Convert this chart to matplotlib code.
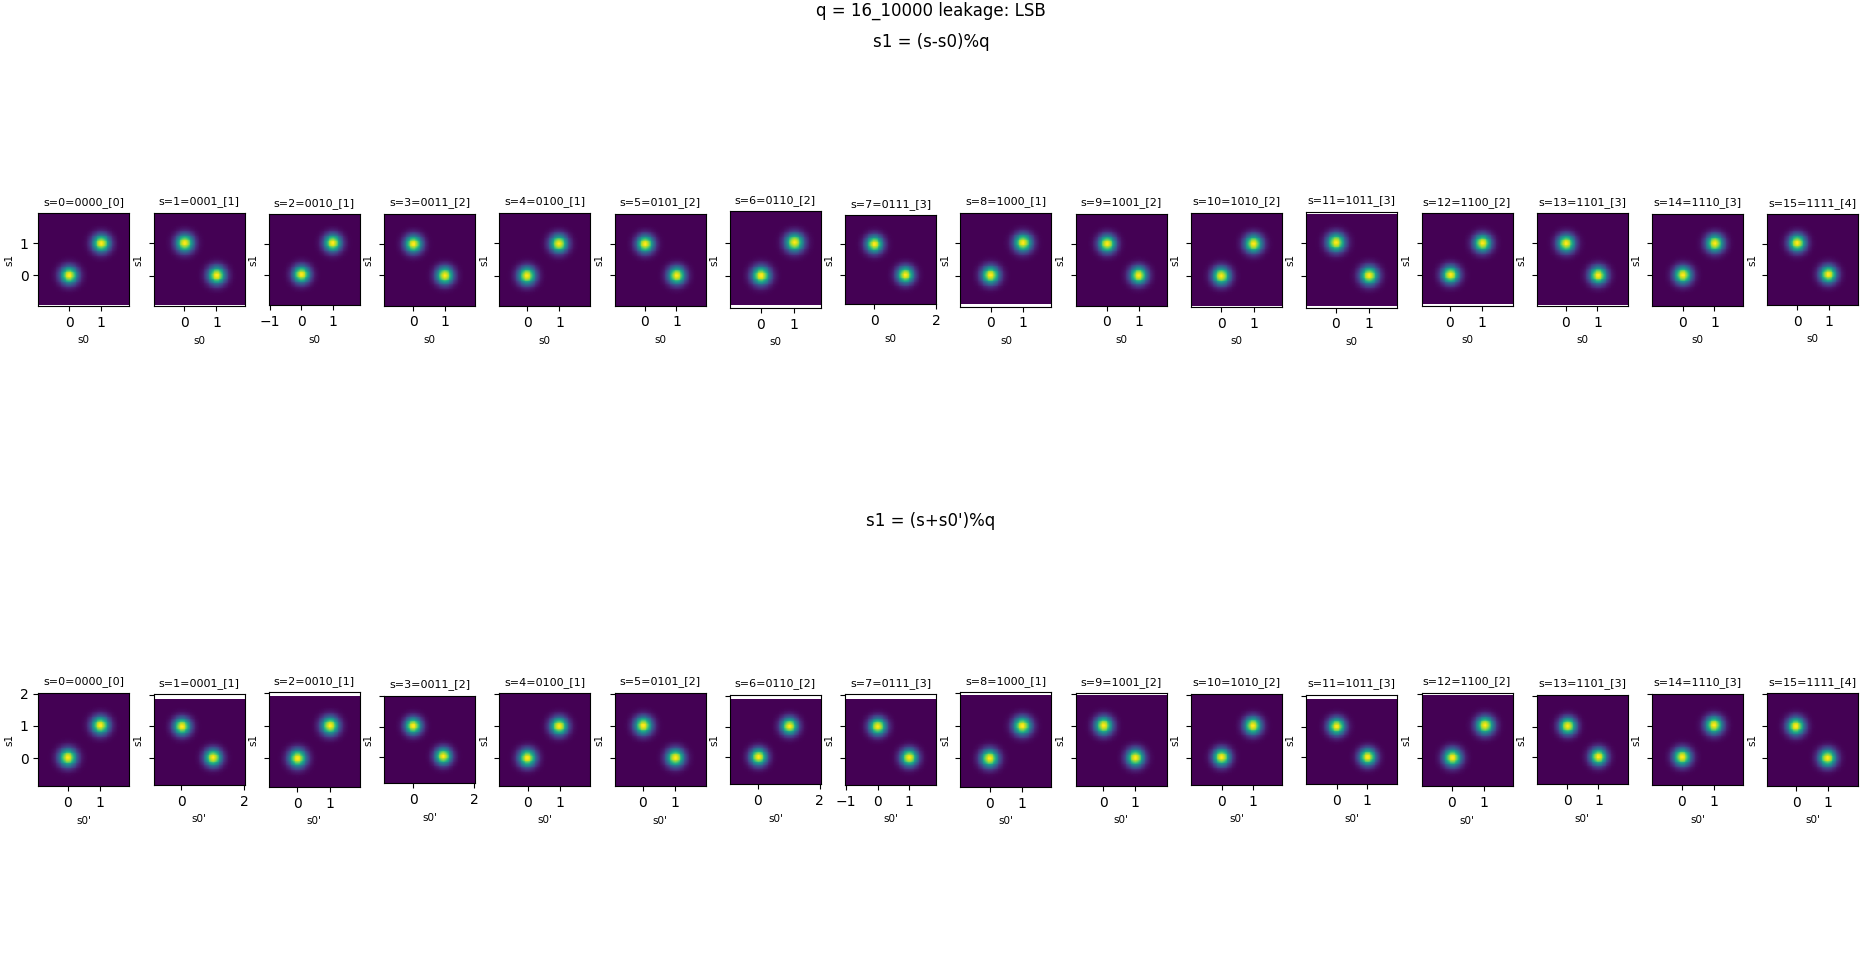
import numpy as np
import matplotlib
matplotlib.use("Agg")
import matplotlib.pyplot as plt

# ---------------- data ----------------
s_values = list(range(16))
s_bits = ["0000", "0001", "0010", "0011", "0100", "0101", "0110", "0111",
          "1000", "1001", "1010", "1011", "1100", "1101", "1110", "1111"]
hamming = [0, 1, 1, 2, 1, 2, 2, 3, 1, 2, 2, 3, 2, 3, 3, 4]
s0_levels = [0, 1]          # LSB values of the share s0
blob_sigma = 0.19           # spread of the leakage noise

# data range of each 2-D histogram (x range = s0, y range = s1)
top_xrange = [(-0.96, 1.88), (-0.95, 1.87), (-1.03, 1.86), (-0.93, 1.95),
              (-0.86, 1.96), (-0.95, 1.92), (-0.92, 1.81), (-0.94, 2.01),
              (-0.93, 1.88), (-0.98, 1.89), (-0.93, 1.87), (-0.90, 1.86),
              (-0.88, 1.97), (-0.90, 1.95), (-0.96, 1.90), (-0.96, 1.94)]
top_yrange = [(-0.92, 1.94), (-0.91, 1.89), (-0.96, 1.94), (-0.96, 1.91),
              (-0.93, 1.94), (-0.96, 1.91), (-0.88, 1.94), (-0.93, 1.90),
              (-0.88, 1.94), (-0.96, 1.90), (-0.92, 1.94), (-0.91, 1.85),
              (-0.91, 1.94), (-0.92, 1.91), (-0.96, 1.94), (-0.96, 1.94)]
top_ylim = (-0.96, 1.94)

bot_xrange = [(-0.91, 1.90), (-0.89, 2.01), (-0.87, 1.91), (-0.96, 2.04),
              (-0.88, 1.96), (-0.87, 1.94), (-0.91, 2.04), (-1.03, 1.87),
              (-0.89, 1.89), (-0.86, 1.98), (-0.97, 1.92), (-0.98, 1.97),
              (-0.93, 1.88), (-0.99, 1.95), (-0.94, 1.93), (-0.90, 1.95)]
bot_yrange = [(-0.87, 1.96), (-0.87, 1.87), (-0.87, 1.90), (-0.87, 1.97),
              (-0.87, 2.03), (-0.87, 2.03), (-0.87, 1.87), (-0.87, 1.87),
              (-0.87, 1.94), (-0.87, 1.94), (-0.87, 1.99), (-0.87, 1.88),
              (-0.87, 1.93), (-0.87, 1.96), (-0.87, 2.00), (-0.87, 2.03)]
bot_ylim = (-0.87, 2.03)

suptitle = "q = 16_10000 leakage: LSB"
row_titles = ["s1 = (s-s0)%q", "s1 = (s+s0')%q"]
row_xlabels = ["s0", "s0'"]

# ---------------- layout ----------------
W, H = 1862, 974
fig = plt.figure(figsize=(W / 100, H / 100), dpi=100)

slot_w, slot_h = 91, 100
first_center_x = 83.8
pitch = 115.27
row_center_y = [259.7, 739.5]


def density(xr, yr, centers, n=110):
    xs = np.linspace(xr[0], xr[1], n)
    ys = np.linspace(yr[0], yr[1], n)
    X, Y = np.meshgrid(xs, ys)
    Z = np.zeros_like(X)
    for cx, cy in centers:
        Z += np.exp(-((X - cx) ** 2 + (Y - cy) ** 2) / (2 * blob_sigma ** 2))
    return Z


rows = [
    (top_xrange, top_yrange, top_ylim, lambda s, s0: (s - s0) % 2),
    (bot_xrange, bot_yrange, bot_ylim, lambda s, s0: (s + s0) % 2),
]

for r, (xranges, yranges, ylim, rel) in enumerate(rows):
    cy = row_center_y[r]
    for i, s in enumerate(s_values):
        cx = first_center_x + i * pitch
        rect = [(cx - slot_w / 2) / W, (H - cy - slot_h / 2) / H, slot_w / W, slot_h / H]
        ax = fig.add_axes(rect)
        centers = [(s0, rel(s, s0)) for s0 in s0_levels]
        xr, yr = xranges[i], yranges[i]
        Z = density(xr, yr, centers)
        ax.imshow(Z, extent=[xr[0], xr[1], yr[0], yr[1]], origin="lower",
                  cmap="viridis", interpolation="nearest")
        ax.set_xlim(*xr)
        ax.set_ylim(*ylim)
        ax.set_aspect("equal", adjustable="box")
        ax.set_anchor("C")
        ax.set_title(f"s={s}={s_bits[i]}_[{hamming[i]}]", fontsize=8)
        ax.set_xlabel(row_xlabels[r], fontsize=7.5)
        ax.set_ylabel("s1", fontsize=7.5)
        ax.tick_params(labelsize=10)
        if i > 0:
            ax.tick_params(labelleft=False)

fig.text(0.5, 1 - 11 / H, suptitle, ha="center", va="center", fontsize=12)
fig.text(0.5, 1 - 41.7 / H, row_titles[0], ha="center", va="center", fontsize=12)
fig.text(0.5, 1 - 520.7 / H, row_titles[1], ha="center", va="center", fontsize=12)

fig.savefig("out.png", dpi=100)
